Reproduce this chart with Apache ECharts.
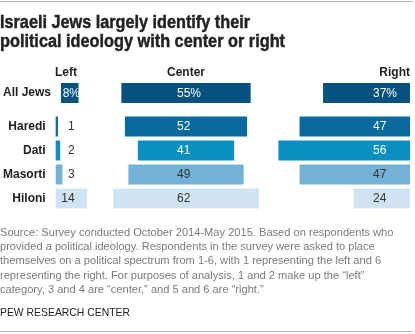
<!DOCTYPE html>
<html>
<head>
<meta charset="utf-8">
<script src="https://cdn.jsdelivr.net/npm/echarts@6/dist/echarts.min.js"></script>
<style>
  html, body { margin: 0; padding: 0; background: #fff; }
  #chart { width: 415px; height: 334px; }
</style>
</head>
<body>
<div id="chart"></div>
<script>
// Title, headers and notes
const titleLines = ['Israeli Jews largely identify their', 'political ideology with center or right'];
const columnNames = ['Left', 'Center', 'Right'];
const noteLines = [
  'Source: Survey conducted October 2014-May 2015. Based on respondents who',
  'provided a political ideology. Respondents in the survey were asked to place',
  'themselves on a political spectrum from 1-6, with 1 representing the left and 6',
  'representing the right. For purposes of analysis, 1 and 2 make up the \u201cleft\u201d',
  'category, 3 and 4 are \u201ccenter,\u201d and 5 and 6 are \u201cright.\u201d'
];
const sourceLabel = 'PEW RESEARCH CENTER';

// Rows
const totalRows = ['All Jews'];
const subRows = ['Haredi', 'Dati', 'Masorti', 'Hiloni'];

// Shares (%) per ideology column
const leftTotal = [8];
const centerTotal = [55];
const rightTotal = [37];
const leftSub = [1, 2, 3, 14];
const centerSub = [52, 41, 49, 62];
const rightSub = [47, 56, 47, 24];

// Row colours
const totalColors = ['#05517f'];
const totalTextColors = ['#ffffff'];
const subColors = ['#07699d', '#0a8fc2', '#72b2d9', '#cfe3f2'];
const subTextColors = ['#ffffff', '#ffffff', '#333333', '#333333'];

const chart = echarts.init(document.getElementById('chart'), null, { renderer: 'canvas' });

const FONT = '"Liberation Sans", Arial, sans-serif';
const BAR_H = 20;

// Width of a string in a given font, used to fit headline lines to a set width
const measureCtx = document.createElement('canvas').getContext('2d');
function textWidth(text, font) {
  measureCtx.font = font;
  return measureCtx.measureText(text).width;
}

// Column geometry: left (0..100 from the left edge), center (-50..50), right (0..100 from the right edge)
const columns = [
  { key: 'left',   left: 55,    width: 225, min: 0,   max: 100, inverse: false },
  { key: 'center', left: 68.5,  width: 235, min: -50, max: 50,  inverse: false },
  { key: 'right',  left: 175,   width: 235, min: 0,   max: 100, inverse: true }
];
const bands = [
  { top: 81,    height: 24, cats: totalRows, colors: totalColors, textColors: totalTextColors, isTotal: true,
    values: { left: leftTotal, center: centerTotal, right: rightTotal } },
  { top: 114.5, height: 96, cats: subRows,   colors: subColors,   textColors: subTextColors,   isTotal: false,
    values: { left: leftSub, center: centerSub, right: rightSub } }
];

const grid = [], xAxis = [], yAxis = [], series = [];
bands.forEach((band) => {
  columns.forEach((col, c) => {
    const idx = grid.length;
    grid.push({ left: col.left, top: band.top, width: col.width, height: band.height, containLabel: false });
    xAxis.push({
      type: 'value', gridIndex: idx, min: col.min, max: col.max, inverse: col.inverse,
      show: false
    });
    yAxis.push({
      type: 'category', gridIndex: idx, data: band.cats, inverse: true,
      axisLine: { show: false }, axisTick: { show: false }, splitLine: { show: false },
      axisLabel: {
        show: c === 0, margin: 10, color: '#222',
        fontFamily: FONT, fontWeight: 'bold', fontSize: 12
      }
    });
    const values = band.values[col.key];
    series.push({
      type: 'custom',
      xAxisIndex: idx,
      yAxisIndex: idx,
      data: values.map((v, i) => [v, i]),
      encode: { x: 0, y: 1 },
      renderItem(params, api) {
        const v = api.value(0);
        const i = api.value(1);
        let a, z;
        if (col.key === 'center') {
          a = api.coord([-v / 2, i]);
          z = api.coord([v / 2, i]);
        } else {
          a = api.coord([0, i]);
          z = api.coord([v, i]);
        }
        const x0 = Math.min(a[0], z[0]);
        const x1 = Math.max(a[0], z[0]);
        const cy = a[1];
        const cs = params.coordSys;
        let tx, align;
        if (col.key === 'left') { tx = cs.x + 19; align = 'right'; }
        else if (col.key === 'center') { tx = cs.x + cs.width / 2 - 9; align = 'left'; }
        else { tx = cs.x + cs.width - 37; align = 'left'; }
        let textColor = band.textColors[i];
        if (col.key === 'left' && x1 < tx - 4) textColor = '#333333';
        return {
          type: 'group',
          children: [
            {
              type: 'rect',
              shape: { x: x0, y: cy - BAR_H / 2, width: Math.max(x1 - x0, 1.5), height: BAR_H },
              style: { fill: band.colors[i] }
            },
            {
              type: 'text',
              style: {
                x: tx, y: cy + 0.5,
                text: band.isTotal ? v + '%' : String(v),
                fill: textColor,
                font: '12px ' + FONT,
                textAlign: align,
                textVerticalAlign: 'middle'
              }
            }
          ]
        };
      }
    });
  });
});

const graphic = [
  { type: 'line', shape: { x1: 0, y1: 1.5, x2: 413, y2: 1.5 }, style: { stroke: '#b5b5b5', lineWidth: 1 } },
  { type: 'line', shape: { x1: 0, y1: 331.5, x2: 413, y2: 331.5 }, style: { stroke: '#b5b5b5', lineWidth: 1 } }
];

// Headline: a condensed bold face, each line fitted to its set width
const TITLE_FONT = 'bold 18px ' + FONT;
const titleWidths = [250, 285];
const titleY = [23, 42];
titleLines.forEach((t, k) => {
  const sx = titleWidths[k] / textWidth(t, TITLE_FONT);
  graphic.push({
    type: 'text', x: 0, y: titleY[k], scaleX: sx,
    style: {
      text: t, font: TITLE_FONT, fill: '#222',
      stroke: '#222', lineWidth: 0.45,
      textVerticalAlign: 'middle'
    }
  });
});

const headerX = [55, 186, 410];
const headerAlign = ['left', 'center', 'right'];
columnNames.forEach((t, k) => {
  graphic.push({
    type: 'text', x: headerX[k], y: 73,
    style: { text: t, font: 'bold 12px ' + FONT, fill: '#222', textAlign: headerAlign[k], textVerticalAlign: 'middle' }
  });
});
noteLines.forEach((t, k) => {
  graphic.push({
    type: 'text', x: 0, y: 232.5 + k * 14.4,
    style: { text: t, font: '11.1px ' + FONT, fill: '#7a7a7a', textVerticalAlign: 'middle' }
  });
});
const SOURCE_FONT = '11px ' + FONT;
graphic.push({
  type: 'text', x: 0, y: 313, scaleX: 130 / textWidth(sourceLabel, SOURCE_FONT),
  style: { text: sourceLabel, font: SOURCE_FONT, fill: '#222', textVerticalAlign: 'middle' }
});

chart.setOption({
  animation: false,
  grid, xAxis, yAxis, series, graphic
});
</script>
</body>
</html>
